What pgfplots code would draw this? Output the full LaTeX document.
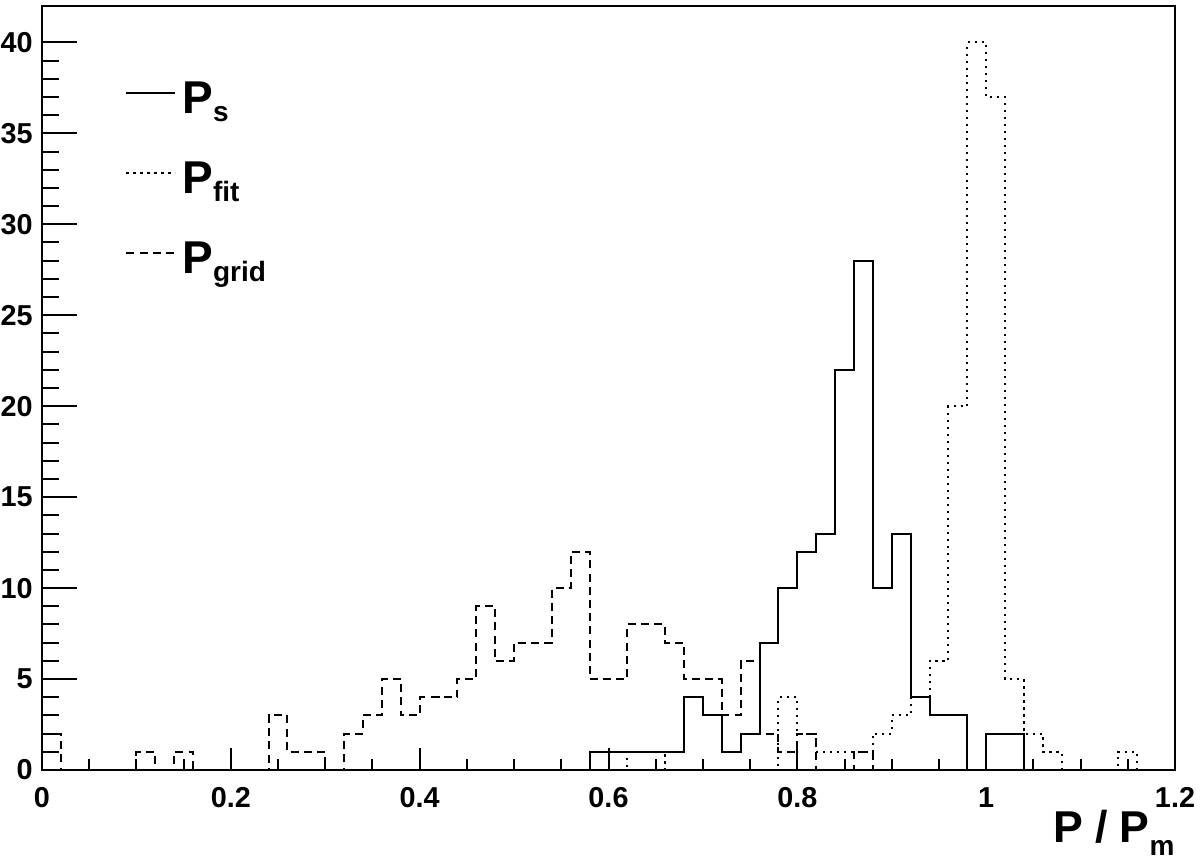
\documentclass[border=0pt]{standalone}
\usepackage{pgfplots}
\pgfplotsset{compat=1.18}
\usepackage{pgfplotstable}
\usepackage{fontspec}
\setmainfont{Liberation Sans}

% subscript in the ROOT style: smaller, lowered
\newcommand\lsub[3]{#1\raisebox{-#3}{\fontsize{14}{14}\selectfont #2}}

% bin low edge, counts of P_s, P_fit, P_grid (bin width 0.02)
\pgfplotstableread{
x    s  fit grid
0.00 0  0   2
0.02 0  0   0
0.04 0  0   0
0.06 0  0   0
0.08 0  0   0
0.10 0  0   1
0.12 0  0   0
0.14 0  0   1
0.16 0  0   0
0.18 0  0   0
0.20 0  0   0
0.22 0  0   0
0.24 0  0   3
0.26 0  0   1
0.28 0  0   1
0.30 0  0   0
0.32 0  0   2
0.34 0  0   3
0.36 0  0   5
0.38 0  0   3
0.40 0  0   4
0.42 0  0   4
0.44 0  0   5
0.46 0  0   9
0.48 0  0   6
0.50 0  0   7
0.52 0  0   7
0.54 0  0   10
0.56 0  0   12
0.58 1  0   5
0.60 1  0   5
0.62 1  1   8
0.64 1  1   8
0.66 1  0   7
0.68 4  0   5
0.70 3  0   5
0.72 1  0   3
0.74 2  0   6
0.76 7  0   2
0.78 10 4   1
0.80 12 2   2
0.82 13 1   0
0.84 22 1   0
0.86 28 1   1
0.88 10 2   0
0.90 13 3   0
0.92 4  4   0
0.94 3  6   0
0.96 3  20  0
0.98 0  40  0
1.00 2  37  0
1.02 2  5   0
1.04 0  2   0
1.06 0  1   0
1.08 0  0   0
1.10 0  0   0
1.12 0  0   0
1.14 0  1   0
1.16 0  0   0
1.18 0  0   0
1.20 0  0   0
}\hist

\begin{document}
\begin{tikzpicture}
\begin{axis}[
name=ax, scale only axis, width=566.5pt, height=382pt,
xmin=0, xmax=1.2, ymin=0, ymax=42,
axis on top, axis line style={line width=1pt},
tick pos=left, tick align=inside,
xtick={0,0.2,0.4,0.6,0.8,1,1.2}, xticklabels={0,0.2,0.4,0.6,0.8,1,1.2},
ytick={0,5,...,40},
minor x tick num=3, minor y tick num=4,
every tick/.style={black, line width=1pt},
major x tick style={/pgfplots/major tick length=10.8pt},
minor x tick style={/pgfplots/minor tick length=5.3pt},
major y tick style={/pgfplots/major tick length=17.3pt},
minor y tick style={/pgfplots/minor tick length=8.7pt},
/pgf/number format/assume math mode=true,
ticklabel style={font=\fontsize{14.4}{14}\selectfont\bfseries, inner sep=0pt},
x tick label style={yshift=-8.5pt},
y tick label style={xshift=-4.5pt},
xlabel={P / \lsub{P}{m}{6.5pt}},
xlabel style={at={(rel axis cs:1,0)}, anchor=north east, inner sep=0pt, yshift=-20pt,
  font=\fontsize{22.3}{22}\selectfont\bfseries},
legend style={draw=none, fill=none, at={(0.0733,0.9045)}, anchor=north west,
  inner sep=0pt, row sep=13pt, column sep=3pt,
  font=\fontsize{23}{23}\selectfont\bfseries,
  nodes={inner sep=0pt, text height=17pt, text depth=10pt},
  cells={anchor=base west}},
legend image code/.code={\draw[#1] (0pt,10pt) -- (24.5pt,10pt);},
]
\addplot[const plot mark left, black, line width=1pt] table[x=x, y=s] {\hist};
\addlegendentry{\lsub{P}{s}{4.2pt}}
\addplot[const plot mark left, black, line width=1pt, dash pattern=on 1.1pt off 2.4pt] table[x=x, y=fit] {\hist};
\addlegendentry{\lsub{P}{fit}{4.2pt}}
\addplot[const plot mark left, black, line width=1pt, dash pattern=on 4pt off 2.6pt] table[x=x, y=grid] {\hist};
\addlegendentry{\lsub{P}{grid}{4.2pt}}
\end{axis}
\pgfresetboundingbox
\path ([shift={(-21pt,-46pt)}]ax.south west) rectangle ([shift={(12.5pt,3pt)}]ax.north east);
\end{tikzpicture}
\end{document}
